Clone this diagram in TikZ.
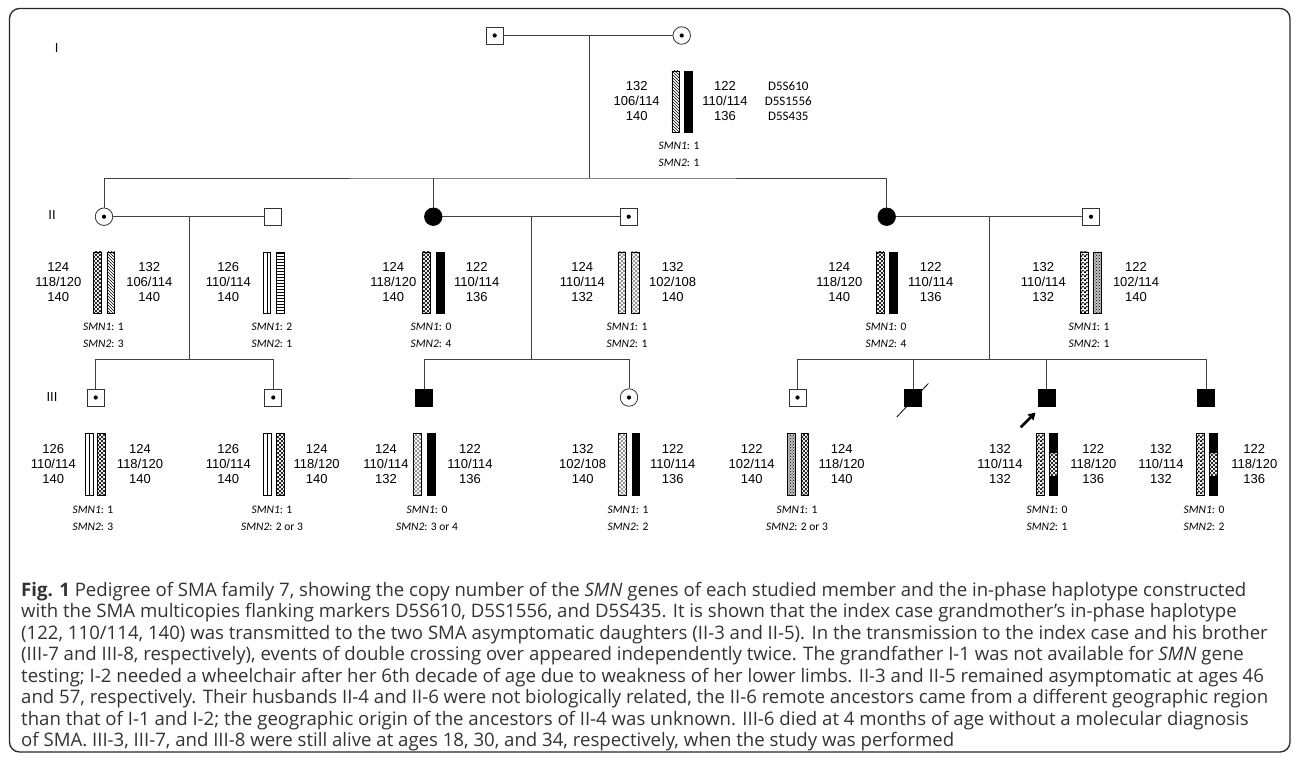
\documentclass[tikz,border=0pt]{standalone}
\usepackage{fontspec}
\setmainfont{Liberation Sans}
\newfontfamily\calibrifam{Carlito}
\newfontfamily\capfam{Open Sans}
\usepackage{tikz}
\usetikzlibrary{arrows.meta,patterns,calc}
\newcommand{\allelefont}{\fontsize{13}{15}\selectfont}
\newcommand{\markerfont}{\calibrifam\fontsize{13}{15}\selectfont}
\newcommand{\smnfont}{\calibrifam\fontsize{11.5}{17}\selectfont}
\newcommand{\capfnt}{\capfam\fontsize{18.6}{21.5}\selectfont}
% fine checkerboard and diamond lattice for the bars
\pgfdeclarepatternformonly{finechecker}{\pgfpointorigin}{\pgfqpoint{4pt}{4pt}}{\pgfqpoint{4pt}{4pt}}{%
  \pgfpathrectangle{\pgfpointorigin}{\pgfqpoint{2pt}{2pt}}%
  \pgfpathrectangle{\pgfqpoint{2pt}{2pt}}{\pgfqpoint{2pt}{2pt}}%
  \pgfusepath{fill}}
\pgfdeclarepatternformonly{lattice}{\pgfqpoint{-0.5pt}{-0.5pt}}{\pgfqpoint{4.5pt}{4.5pt}}{\pgfqpoint{4pt}{4pt}}{%
  \pgfsetlinewidth{0.65pt}%
  \pgfpathmoveto{\pgfqpoint{0pt}{2pt}}\pgfpathlineto{\pgfqpoint{2pt}{0pt}}%
  \pgfpathlineto{\pgfqpoint{4pt}{2pt}}\pgfpathlineto{\pgfqpoint{2pt}{4pt}}\pgfpathclose
  \pgfusepath{stroke}}
\tikzset{
  % pedigree symbols
  male/.style={rectangle, draw=black!80, fill=white, minimum size=17pt, inner sep=0pt, line width=0.8pt},
  female/.style={circle, draw=black!80, fill=white, minimum size=17.5pt, inner sep=0pt, line width=0.8pt},
  affected/.style={fill=black, draw=black},
  % heterozygous carrier: dot in the middle
  carrier/.style={path picture={\fill[black] (path picture bounding box.center) circle (2.1pt);}},
  % lines of descent
  kin/.style={draw=black!75, line width=0.8pt},
  % haplotype bar
  hbar/.style={rectangle, draw=black, line width=0.5pt, minimum width=7.6pt, minimum height=61.5pt,
               inner sep=0pt, anchor=north west},
  hapA/.style={hbar, pattern=north west lines},
  hapB/.style={hbar, fill=black},
  hapC/.style={hbar, pattern=lattice},
  hapD/.style={hbar, fill=white,
               path picture={\draw[line width=0.5pt] (path picture bounding box.north) -- (path picture bounding box.south);}},
  hapE/.style={hbar, pattern=horizontal lines},
  hapF/.style={hbar, pattern=lattice, pattern color=black!50},
  hapH/.style={hbar, pattern=finechecker},
  hapK/.style={hbar, preaction={fill=black!25}, pattern=crosshatch dots},
  % texts
  allele/.style={font=\allelefont, align=center, inner sep=0pt},
  marker/.style={font=\markerfont, align=center, inner sep=0pt},
  smn/.style={font=\smnfont, align=center, inner sep=0pt},
  gen/.style={font=\allelefont, inner sep=0pt},
  capline/.style={font=\capfnt, text=black!80, inner sep=0pt, anchor=base west},
  % index case arrow
  proband/.style={-{Triangle[length=7pt,width=8pt]}, line width=2.6pt},
}

\begin{document}
\begin{tikzpicture}[x=1pt, y=-1pt]
  \useasboundingbox (0,0) rectangle (1295,761);
  \draw[rounded corners=10pt, line width=1.3pt, black!85] (9.5,8.5) rectangle (1290,752);

  % generations
  \node[gen] (g1) at (56.7,48) {I};
  \node[gen] (g2) at (52,215) {II};
  \node[gen] (g3) at (52,397.5) {III};

  % individuals
  \node[male, carrier] (I1) at (494.7,35.5) {};
  \node[female, carrier] (I2) at (681.7,35.5) {};
  \node[female, carrier] (II1) at (104,216.7) {};
  \node[male] (II2) at (272.7,216.7) {};
  \node[female, affected] (II3) at (433.3,216.7) {};
  \node[male, carrier] (II4) at (628.7,216.7) {};
  \node[female, affected] (II5) at (886.7,216.7) {};
  \node[male, carrier] (II6) at (1091,216.7) {};
  \node[male, carrier] (III1) at (95.7,397.5) {};
  \node[male, carrier] (III2) at (273.3,397.5) {};
  \node[male, affected] (III3) at (424,397.5) {};
  \node[female, carrier] (III4) at (629,397.5) {};
  \node[male, carrier] (III5) at (797.5,397.5) {};
  \node[male, affected] (III6) at (913.3,397.5) {};
  \node[male, affected] (III7) at (1046.7,397.5) {};
  \node[male, affected] (III8) at (1206.3,397.5) {};

  % I-1 x I-2
  \coordinate (m1) at (589.3,35.5);
  \coordinate (s1) at (589.3,178);
  \draw[kin] (I1) -- (I2);
  \draw[kin] (m1) -- (s1);
  \draw[kin] (II1) |- (s1) -| (II5);
  \draw[kin] (s1 -| II3) -- (II3);

  % II-1 x II-2
  \coordinate (m2) at (189.3,216.7);
  \coordinate (s2) at (189.3,359.3);
  \draw[kin] (II1) -- (II2);
  \draw[kin] (m2) -- (s2);
  \draw[kin] (III1) |- (s2) -| (III2);

  % II-3 x II-4
  \coordinate (m3) at (531.7,216.7);
  \coordinate (s3) at (531.7,359.3);
  \draw[kin] (II3) -- (II4);
  \draw[kin] (m3) -- (s3);
  \draw[kin] (III3) |- (s3) -| (III4);

  % II-5 x II-6
  \coordinate (m4) at (989,216.7);
  \coordinate (s4) at (989,359.3);
  \draw[kin] (II5) -- (II6);
  \draw[kin] (m4) -- (s4);
  \draw[kin] (III5) |- (s4) -| (III8);
  \draw[kin] (s4 -| III6) -- (III6);
  \draw[kin] (s4 -| III7) -- (III7);

  % deceased and index case
  \draw[line width=0.8pt] ($(III6.center)+(-16.5,19.5)$) -- ($(III6.center)+(15,-14)$);
  \coordinate (pa) at (1020.7,427.3);
  \coordinate (pb) at (1035.5,412.5);
  \draw[proband] (pa) -- (pb);

  % haplotypes, generation I
  \node[hapA] (I2a) at (671.7,70.7) {};
  \node[hapB] (I2b) at (684.3,70.7) {};
  \node[allele] (I2l) at (636.7,101) {132\\106/114\\140};
  \node[allele] (I2r) at (725,101) {122\\110/114\\136};
  \node[marker] (mk) at (788.3,101) {D5S610\\D5S1556\\D5S435};
  \node[smn] (I2s) at (679,154.5) {\textit{SMN1}: 1\\\textit{SMN2}: 1};

  % haplotypes, generation II
  \node[hapC] (II1a) at (93.3,251.7) {};
  \node[hapA] (II1b) at (106.7,251.7) {};
  \node[allele] (II1l) at (58.3,282.5) {124\\118/120\\140};
  \node[allele] (II1r) at (149.3,282.5) {132\\106/114\\140};
  \node[smn] (II1s) at (103.5,335.5) {\textit{SMN1}: 1\\\textit{SMN2}: 3};

  \node[hapD] (II2a) at (262.7,251.7) {};
  \node[hapE] (II2b) at (276,251.7) {};
  \node[allele] (II2l) at (228.3,282.5) {126\\110/114\\140};
  \node[smn] (II2s) at (272,335.5) {\textit{SMN1}: 2\\\textit{SMN2}: 1};

  \node[hapC] (II3a) at (422.3,251.7) {};
  \node[hapB] (II3b) at (436,251.7) {};
  \node[allele] (II3l) at (393.3,282.5) {124\\118/120\\140};
  \node[allele] (II3r) at (476.7,282.5) {122\\110/114\\136};
  \node[smn] (II3s) at (431,335.5) {\textit{SMN1}: 0\\\textit{SMN2}: 4};

  \node[hapF] (II4a) at (617.7,251.7) {};
  \node[hapF] (II4b) at (631,251.7) {};
  \node[allele] (II4l) at (582.3,282.5) {124\\110/114\\132};
  \node[allele] (II4r) at (672.7,282.5) {132\\102/108\\140};
  \node[smn] (II4s) at (627,335.5) {\textit{SMN1}: 1\\\textit{SMN2}: 1};

  \node[hapC] (II5a) at (876,251.7) {};
  \node[hapB] (II5b) at (889.3,251.7) {};
  \node[allele] (II5l) at (839.3,282.5) {124\\118/120\\140};
  \node[allele] (II5r) at (930.7,282.5) {122\\110/114\\136};
  \node[smn] (II5s) at (886,335.5) {\textit{SMN1}: 0\\\textit{SMN2}: 4};

  \node[hapH] (II6a) at (1080,251.7) {};
  \node[hapK] (II6b) at (1093.3,251.7) {};
  \node[allele] (II6l) at (1043.3,282.5) {132\\110/114\\132};
  \node[allele] (II6r) at (1136,282.5) {122\\102/114\\140};
  \node[smn] (II6s) at (1089,335.5) {\textit{SMN1}: 1\\\textit{SMN2}: 1};

  % haplotypes, generation III
  \node[hapD] (III1a) at (85,433.3) {};
  \node[hapC] (III1b) at (97.3,433.3) {};
  \node[allele] (III1l) at (53.3,463.8) {126\\110/114\\140};
  \node[allele] (III1r) at (140,463.8) {124\\118/120\\140};
  \node[smn] (III1s) at (93,518.5) {\textit{SMN1}: 1\\\textit{SMN2}: 3};

  \node[hapD] (III2a) at (263,433.3) {};
  \node[hapC] (III2b) at (276,433.3) {};
  \node[allele] (III2l) at (228.3,463.8) {126\\110/114\\140};
  \node[allele] (III2r) at (316.7,463.8) {124\\118/120\\140};
  \node[smn] (III2s) at (272,518.5) {\textit{SMN1}: 1\\\textit{SMN2}: 2 or 3};

  \node[hapF] (III3a) at (413,433.3) {};
  \node[hapB] (III3b) at (427,433.3) {};
  \node[allele] (III3l) at (386,463.8) {124\\110/114\\132};
  \node[allele] (III3r) at (470,463.8) {122\\110/114\\136};
  \node[smn] (III3s) at (427,518.5) {\textit{SMN1}: 0\\\textit{SMN2}: 3 or 4};

  \node[hapF] (III4a) at (618,433.3) {};
  \node[hapB] (III4b) at (631.7,433.3) {};
  \node[allele] (III4l) at (582.7,463.8) {132\\102/108\\140};
  \node[allele] (III4r) at (672.7,463.8) {122\\110/114\\136};
  \node[smn] (III4s) at (628,518.5) {\textit{SMN1}: 1\\\textit{SMN2}: 2};

  \node[hapK] (III5a) at (787.3,433.3) {};
  \node[hapC] (III5b) at (800.7,433.3) {};
  \node[allele] (III5l) at (751.7,463.8) {122\\102/114\\140};
  \node[allele] (III5r) at (841.7,463.8) {124\\118/120\\140};
  \node[smn] (III5s) at (797,518.5) {\textit{SMN1}: 1\\\textit{SMN2}: 2 or 3};

  \node[hapH] (III7a) at (1036,433.3) {};
  \node[hapC] (III7b) at (1049.3,433.3) {};
  \fill (III7b.north west) rectangle ++(7.6,20);
  \fill (III7b.south west) rectangle ++(7.6,-19);
  \node[allele] (III7l) at (1000,463.8) {132\\110/114\\132};
  \node[allele] (III7r) at (1093.3,463.8) {122\\118/120\\136};
  \node[smn] (III7s) at (1047,518.5) {\textit{SMN1}: 0\\\textit{SMN2}: 1};

  \node[hapH] (III8a) at (1196,433.3) {};
  \node[hapC] (III8b) at (1209.3,433.3) {};
  \fill (III8b.north west) rectangle ++(7.6,20);
  \fill (III8b.south west) rectangle ++(7.6,-19);
  \node[allele] (III8l) at (1161,463.8) {132\\110/114\\132};
  \node[allele] (III8r) at (1254.3,463.8) {122\\118/120\\136};
  \node[smn] (III8s) at (1204,518.5) {\textit{SMN1}: 0\\\textit{SMN2}: 2};

  % caption
  \node[capline] (cap1) at (21,596) {\textbf{Fig. 1} Pedigree of SMA family 7, showing the copy number of the \textit{SMN} genes of each studied member and the in-phase haplotype constructed};
  \node[capline] (cap2) at (21,617.5) {with the SMA multicopies flanking markers D5S610, D5S1556, and D5S435. It is shown that the index case grandmother’s in-phase haplotype};
  \node[capline] (cap3) at (21,639) {(122, 110/114, 140) was transmitted to the two SMA asymptomatic daughters (II-3 and II-5). In the transmission to the index case and his brother};
  \node[capline] (cap4) at (21,660.5) {(III-7 and III-8, respectively), events of double crossing over appeared independently twice. The grandfather I-1 was not available for \textit{SMN} gene};
  \node[capline] (cap5) at (21,682) {testing; I-2 needed a wheelchair after her 6th decade of age due to weakness of her lower limbs. II-3 and II-5 remained asymptomatic at ages 46};
  \node[capline] (cap6) at (21,703.5) {and 57, respectively. Their husbands II-4 and II-6 were not biologically related, the II-6 remote ancestors came from a different geographic region};
  \node[capline] (cap7) at (21,725) {than that of I-1 and I-2; the geographic origin of the ancestors of II-4 was unknown. III-6 died at 4 months of age without a molecular diagnosis};
  \node[capline] (cap8) at (21,746.5) {of SMA. III-3, III-7, and III-8 were still alive at ages 18, 30, and 34, respectively, when the study was performed};
\end{tikzpicture}
\end{document}
